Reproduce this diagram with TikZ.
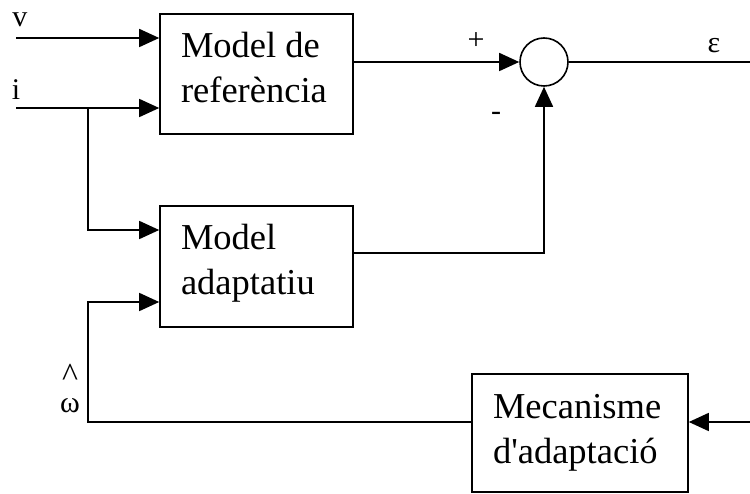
\documentclass[tikz,border=0pt]{standalone}
\usepackage{fontspec}
\setmainfont{Liberation Serif}
\usepackage{tikz}
\usetikzlibrary{arrows.meta}

\newcommand\blokfont{\fontsize{36.5}{45}\selectfont}
\newcommand\labelfont{\fontsize{30}{32}\selectfont}

\tikzset{
  >={Triangle[length=20pt,width=18pt]},
  blok/.style 2 args={draw, inner xsep=21pt, inner ysep=0pt, align=flush left,
    text width=#1, text height=44pt, text depth=#2, font=\blokfont},
  lab/.style={inner sep=0pt, font=\labelfont}
}

\begin{document}
\begin{tikzpicture}[x=1pt, y=-1pt, line width=1.6pt]
  \useasboundingbox (0,0) rectangle (750,494);

  % --- blocs ---
  \node[blok={151pt}{76pt}] (ref) at (256.5,74) {Model de\\referència};
  \node[blok={151pt}{77pt}] (adap) at (256.5,266.5) {Model\\adaptatiu};
  \node[blok={174pt}{74pt}] (mec) at (580,433) {Mecanisme\\d\textquotesingle adaptació};
  \node[draw, circle, minimum size=48pt, inner sep=0pt] (sum) at (544,62) {};

  % --- punts lliures ---
  \coordinate (vin) at (16,38);
  \coordinate (iin) at (16,108);
  \coordinate (br) at (88,108);
  \coordinate (fb) at (88,422);
  \coordinate (epsout) at (750,62);
  \coordinate (mecin) at (750,422);

  % --- connexions ---
  \draw[->] (vin) -- (vin -| ref.west);
  \draw[->] (iin) -- (iin -| ref.west);
  \draw[->] (br) |- ([yshift=36.5pt]adap.west);
  \draw[->] (ref.east |- sum) -- (sum);
  \draw[->] ([yshift=13.5pt]adap.east) -| (sum);
  \draw (sum) -- (epsout);
  \draw[->] (mecin) -- (mecin -| mec.east);
  \draw[->] (mec.west |- fb) -- (fb) |- ([yshift=-35.5pt]adap.west);

  % --- etiquetes ---
  \node[lab, anchor=base] (lv) at (20,27) {v};
  \node[lab, anchor=base] (li) at (16,100) {i};
  \node[lab] (lplus) at (476,41) {+};
  \node[lab] (lminus) at (496,116) {-};
  \node[lab] (leps) at (714,46) {ε};
  \node[lab, align=center, anchor=south, font=\fontsize{30}{26}\selectfont] (lomega) at (70,414)
    {{\fontsize{34}{26}\selectfont\textasciicircum}\\ω};
\end{tikzpicture}
\end{document}
